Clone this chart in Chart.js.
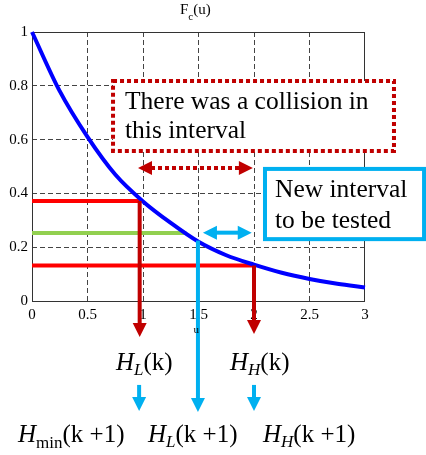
<!DOCTYPE html>
<html>
<head>
<meta charset="utf-8">
<script src="https://cdn.jsdelivr.net/npm/chart.js@4/dist/chart.umd.min.js"></script>
<style>
  html, body { margin: 0; padding: 0; background: #fff; }
  #wrap { width: 426px; height: 455px; }
</style>
</head>
<body>
<div id="wrap"><canvas id="chart" width="426" height="455"></canvas></div>
<script>
// curve F_c(u)
const uValues = [0, 0.25, 0.5, 0.75, 1, 1.25, 1.5, 1.75, 2, 2.25, 2.5, 2.75, 3];
const fcValues = [1, 0.78, 0.61, 0.47, 0.37, 0.29, 0.22, 0.17, 0.135, 0.105, 0.082, 0.064, 0.05];

const xTicks = [0, 0.5, 1, 1.5, 2, 2.5, 3];
const yTicks = [0, 0.2, 0.4, 0.6, 0.8, 1];

// read-off levels
const levelLowU = [0, 0.97];      // F(H_L)
const levelLowF = [0.372, 0.372];
const levelHighU = [0, 2];        // F(H_H)
const levelHighF = [0.132, 0.132];
const levelMidU = [0, 1.39];      // tested level
const levelMidF = [0.253, 0.253];

const serif = '"Liberation Serif", "Times New Roman", serif';

// annotations, in axis units
const arrows = [
    { from: [0.97, 0.372], to: [0.97, -0.134], color: '#c00000', heads: 'end' },
    { from: [2, 0.132], to: [2, -0.123], color: '#c00000', heads: 'end' },
    { from: [1.495, 0.225], to: [1.495, -0.413], color: '#00b0f0', heads: 'end' },
    { from: [0.955, 0.494], to: [1.99, 0.494], color: '#c00000', heads: 'both', dash: [4, 3] },
    { from: [1.54, 0.254], to: [1.98, 0.254], color: '#00b0f0', heads: 'both' },
    { from: [0.965, -0.312], to: [0.965, -0.409], color: '#00b0f0', heads: 'end' },
    { from: [2.0, -0.312], to: [2.0, -0.409], color: '#00b0f0', heads: 'end' }
];

const boxes = [
    { u: [0.73, 3.261], f: [0.818, 0.558], color: '#c00000', dash: [4, 3] },
    { u: [2.099, 3.532], f: [0.491, 0.230], color: '#00b0f0', dash: [] }
];

const texts = [
    { at: [0.838, 0.714], parts: [['There was a collision in', 25.5]] },
    { at: [0.838, 0.606], parts: [['this interval', 25.5]] },
    { at: [2.189, 0.385], parts: [['New interval', 25.5]] },
    { at: [2.189, 0.271], parts: [['to be tested', 25.5]] },
    { at: [0.757, -0.257], parts: [['H', 25, 'i'], ['L', 17, 'i', 5], ['(k)', 25]] },
    { at: [1.784, -0.257], parts: [['H', 25, 'i'], ['H', 17, 'i', 5], ['(k)', 25]] },
    { at: [-0.126, -0.524], parts: [['H', 25, 'i'], ['min', 17, '', 6], ['(k +1)', 25]] },
    { at: [1.045, -0.524], parts: [['H', 25, 'i'], ['L', 17, 'i', 5], ['(k +1)', 25]] },
    { at: [2.081, -0.524], parts: [['H', 25, 'i'], ['H', 17, 'i', 5], ['(k +1)', 25]] },
    { at: [1.333, 1.067], parts: [['F', 15], ['c', 11, '', 6], ['(u)', 15]] },
    { at: [1.455, -0.119], parts: [['u', 11]] }
];

function pts(us, fs) {
    return us.map((u, i) => ({ x: u, y: fs[i] }));
}

function drawHead(ctx, tx, ty, dx, dy, len, half) {
    ctx.beginPath();
    ctx.moveTo(tx, ty);
    ctx.lineTo(tx - dx * len - dy * half, ty - dy * len + dx * half);
    ctx.lineTo(tx - dx * len + dy * half, ty - dy * len - dx * half);
    ctx.closePath();
    ctx.fill();
}

// inner grid only, the frame is drawn solid
const innerGrid = c => (c.index === 0 || c.index === c.scale.ticks.length - 1) ? 'rgba(0,0,0,0)' : '#444';

const framePlugin = {
    id: 'frame',
    beforeDatasetsDraw(chart) {
        const { ctx, chartArea: a } = chart;
        ctx.save();
        ctx.strokeStyle = '#333';
        ctx.lineWidth = 1;
        ctx.setLineDash([]);
        ctx.strokeRect(a.left + 0.5, a.top + 0.5, a.right - a.left - 1, a.bottom - a.top);
        ctx.restore();
    }
};

const notesPlugin = {
    id: 'notes',
    afterDatasetsDraw(chart) {
        const ctx = chart.ctx;
        const sx = chart.scales.x, sy = chart.scales.y;
        const px = u => sx.getPixelForValue(u);
        const py = f => sy.getPixelForValue(f);
        ctx.save();

        // arrows
        arrows.forEach(a => {
            const x1 = px(a.from[0]), y1 = py(a.from[1]);
            const x2 = px(a.to[0]), y2 = py(a.to[1]);
            const L = Math.hypot(x2 - x1, y2 - y1);
            const dx = (x2 - x1) / L, dy = (y2 - y1) / L;
            const len = 14, half = 7;
            const s = a.heads === 'both' ? len - 1 : 0;
            ctx.strokeStyle = a.color;
            ctx.fillStyle = a.color;
            ctx.lineWidth = 4;
            ctx.lineCap = 'butt';
            ctx.setLineDash(a.dash || []);
            ctx.beginPath();
            ctx.moveTo(x1 + dx * s, y1 + dy * s);
            ctx.lineTo(x2 - dx * (len - 1), y2 - dy * (len - 1));
            ctx.stroke();
            ctx.setLineDash([]);
            drawHead(ctx, x2, y2, dx, dy, len, half);
            if (a.heads === 'both') drawHead(ctx, x1, y1, -dx, -dy, len, half);
        });

        // boxes
        boxes.forEach(b => {
            const x1 = px(b.u[0]), x2 = px(b.u[1]);
            const y1 = py(b.f[0]), y2 = py(b.f[1]);
            ctx.fillStyle = '#fff';
            ctx.fillRect(x1, y1, x2 - x1, y2 - y1);
            ctx.strokeStyle = b.color;
            ctx.lineWidth = 4;
            ctx.setLineDash(b.dash);
            ctx.strokeRect(x1, y1, x2 - x1, y2 - y1);
        });
        ctx.setLineDash([]);

        // texts
        ctx.fillStyle = '#000';
        ctx.textBaseline = 'alphabetic';
        ctx.textAlign = 'left';
        texts.forEach(t => {
            let x = px(t.at[0]);
            const y = py(t.at[1]);
            t.parts.forEach(p => {
                ctx.font = (p[2] === 'i' ? 'italic ' : '') + p[1] + 'px ' + serif;
                ctx.fillText(p[0], x, y + (p[3] || 0));
                x += ctx.measureText(p[0]).width;
            });
        });
        ctx.restore();
    }
};

const ctx = document.getElementById('chart');
new Chart(ctx, {
    type: 'line',
    data: {
        datasets: [
            {
                data: pts(uValues, fcValues),
                borderColor: '#0000ff',
                borderWidth: 4,
                pointRadius: 0,
                cubicInterpolationMode: 'monotone',
                clip: false
            },
            { data: pts(levelLowU, levelLowF), borderColor: '#ff0000', borderWidth: 4, pointRadius: 0, borderCapStyle: 'butt' },
            { data: pts(levelHighU, levelHighF), borderColor: '#ff0000', borderWidth: 4, pointRadius: 0, borderCapStyle: 'butt' },
            { data: pts(levelMidU, levelMidF), borderColor: '#92d050', borderWidth: 4, pointRadius: 0, borderCapStyle: 'butt' }
        ]
    },
    options: {
        responsive: false,
        animation: false,
        layout: { padding: { left: 0, top: 32, right: 61, bottom: 0 } },
        plugins: { legend: { display: false }, tooltip: { enabled: false } },
        scales: {
            x: {
                type: 'linear',
                min: 0,
                max: 3,
                afterFit: s => { s.height = 154; },
                afterBuildTicks: s => { s.ticks = xTicks.map(v => ({ value: v })); },
                grid: { color: innerGrid, lineWidth: 1, drawTicks: false },
                border: { display: false, dash: [5, 3] },
                ticks: {
                    padding: 5,
                    color: '#000',
                    font: { family: serif, size: 15 },
                    maxRotation: 0,
                    callback: v => String(v)
                }
            },
            y: {
                type: 'linear',
                min: 0,
                max: 1,
                afterFit: s => { s.width = 32; },
                afterBuildTicks: s => { s.ticks = yTicks.map(v => ({ value: v })); },
                grid: { color: innerGrid, lineWidth: 1, drawTicks: false },
                border: { display: false, dash: [5, 3] },
                ticks: {
                    padding: 4,
                    color: '#000',
                    font: { family: serif, size: 15 },
                    callback: v => String(v)
                }
            }
        }
    },
    plugins: [framePlugin, notesPlugin]
});
</script>
</body>
</html>
